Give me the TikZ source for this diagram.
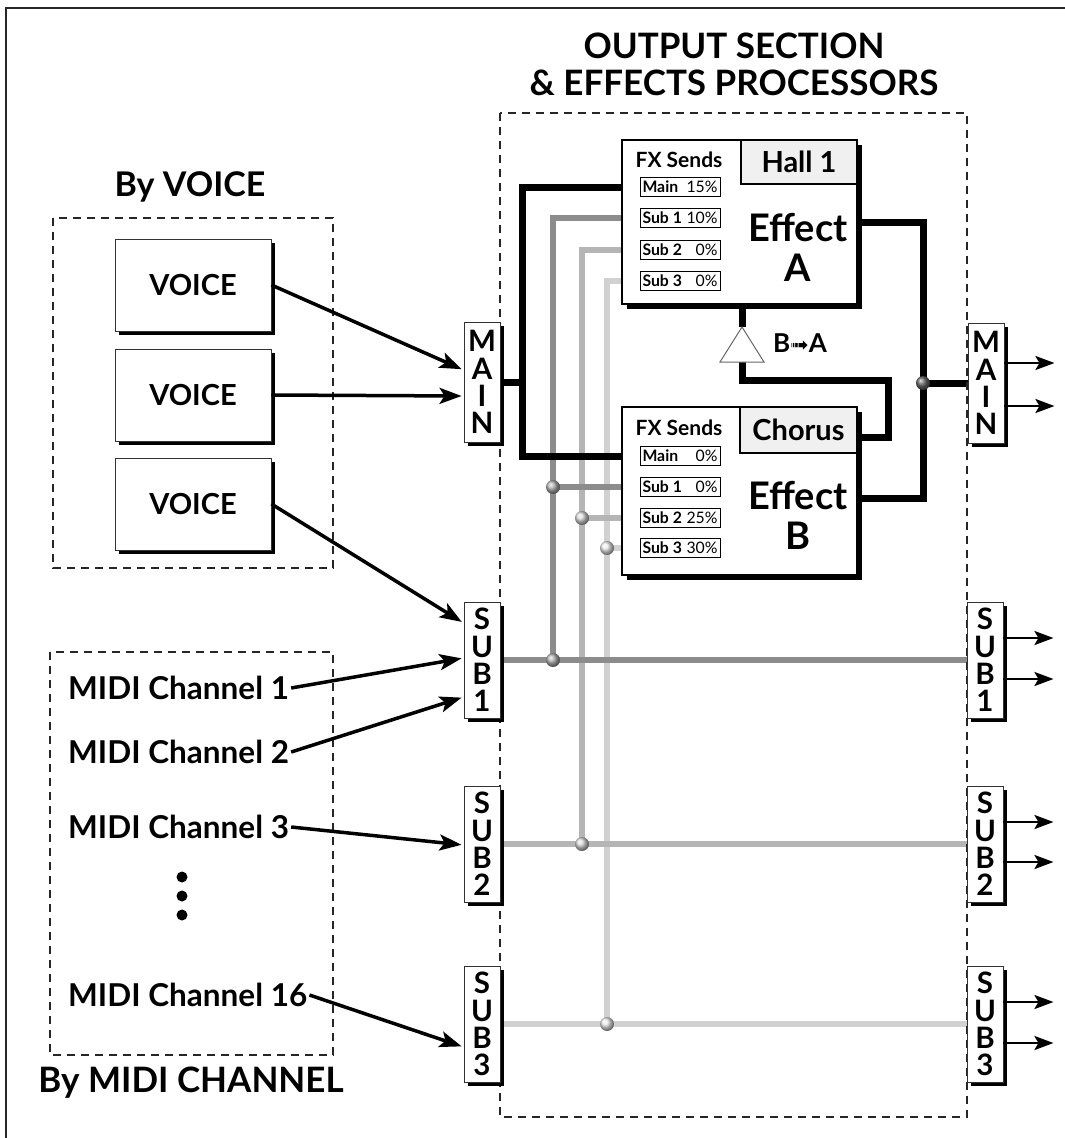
\documentclass[tikz,border=0pt]{standalone}
\usepackage{fontspec}
\setmainfont{Lato}
\newfontfamily\symfont{DejaVu Sans}
\usetikzlibrary{shapes.geometric,shadows,arrows.meta,backgrounds}

\newcommand{\fs}[1]{\fontsize{#1}{#1}\selectfont}
\newcommand{\sendlbl}[2]{\makebox[75pt]{\textbf{#1}\hfill #2}}

\tikzset{
  x=1pt, y=-1pt,
  dashbox/.style={draw=black!85, line width=1.4pt, dash pattern=on 8pt off 6pt},
  hbox/.style={draw=black!80, line width=0.9pt, fill=white, inner sep=0pt,
    drop shadow={shadow xshift=3.5pt, shadow yshift=-3.5pt, fill=black, opacity=1}},
  voicebox/.style={hbox, minimum width=156, minimum height=92, font=\fs{29}\bfseries},
  stackbox/.style={hbox, minimum width=36, align=center,
    font=\fontsize{29.5}{27.3}\selectfont\bfseries},
  fxbox/.style={draw=black, line width=1.6pt, fill=white, inner sep=0pt,
    minimum width=235, drop shadow={shadow xshift=4.5pt, shadow yshift=-4.5pt, fill=black, opacity=1}},
  tab/.style={draw=black, line width=1.2pt, fill=gray!12, inner sep=0pt, font=\fs{29}\bfseries},
  send/.style={draw=black, line width=1pt, fill=white, inner sep=0pt, minimum width=80,
    minimum height=19, font=\fs{15.8}},
  efftxt/.style={align=center, font=\fontsize{38}{40}\selectfont\bfseries},
  fxs/.style={font=\fs{21}\bfseries},
  title/.style={font=\fs{35}\bfseries},
  lbl/.style={font=\fs{31.5}\bfseries},
  blk/.style={line width=7pt, black},
  g1/.style={line width=6.5pt, black!45},
  g2/.style={line width=6.5pt, black!29},
  g3/.style={line width=6.5pt, black!18},
  arr/.style={line width=3.5pt, -{Stealth[length=22pt, width=16pt, inset=5pt]}, shorten >=2pt},
  oarr/.style={line width=2.5pt, -{Stealth[length=19pt, width=14pt, inset=4pt]}},
  jdot/.style={circle, inner sep=0pt, minimum size=14, shading=ball},
}

\begin{document}
\begin{tikzpicture}
\useasboundingbox (0,0) rectangle (1065,1138);
\draw[line width=1.5pt, black!85] (6,1140) -- (6,8) -- (1067,8);

% titles
\node[title] (t1) at (734,46) {OUTPUT SECTION};
\node[title] (t2) at (734,83) {\& EFFECTS PROCESSORS};
\node[font=\fs{34}\bfseries] (byv) at (190,187) {By VOICE};
\node[font=\fs{35}\bfseries] (bym) at (191,1083) {By MIDI CHANNEL};

% dashed groups
\draw[dashbox] (53,218) rectangle (333,568);
\draw[dashbox] (50,652) rectangle (333,1055);
\draw[dashbox] (500,113) rectangle (967,1117);

% voice boxes
\node[voicebox] (v1) at (193,285) {VOICE};
\node[voicebox] (v2) at (193,395) {VOICE};
\node[voicebox] (v3) at (193,504) {VOICE};

% midi labels
\node[lbl, anchor=west, inner sep=2pt] (m1) at (66,688) {MIDI Channel 1};
\node[lbl, anchor=west, inner sep=2pt] (m2) at (66,752) {MIDI Channel 2};
\node[lbl, anchor=west, inner sep=2pt] (m3) at (66,827) {MIDI Channel 3};
\node[lbl, anchor=west, inner sep=2pt] (m16) at (66,995) {MIDI Channel 16};
\fill (182,877) circle (5.5);
\fill (182,896) circle (5.5);
\fill (182,915) circle (5.5);

% bus boxes
\node[stackbox, minimum height=120] (mainL) at (482,382) {M\\A\\I\\N};
\node[stackbox, minimum height=120] (mainR) at (986,383) {M\\A\\I\\N};
\node[stackbox, minimum height=116] (sub1L) at (482,660) {S\\U\\B\\1};
\node[stackbox, minimum height=116] (sub1R) at (985,660) {S\\U\\B\\1};
\node[stackbox, minimum height=116] (sub2L) at (482,844) {S\\U\\B\\2};
\node[stackbox, minimum height=116] (sub2R) at (985,844) {S\\U\\B\\2};
\node[stackbox, minimum height=116] (sub3L) at (482,1024) {S\\U\\B\\3};
\node[stackbox, minimum height=116] (sub3R) at (985,1024) {S\\U\\B\\3};

% effect A
\node[fxbox, minimum height=164] (effA) at (739.5,222) {};
\node[tab, minimum width=116, minimum height=44] (hall) at (799,162) {Hall 1};
\node[efftxt] (effAt) at (798,247) {Effect\\A};
\node[fxs] (fxsA) at (679,160) {FX Sends};
\node[send] (aM) at (680,187) {\sendlbl{Main}{15\%}};
\node[send] (aS1) at (680,218) {\sendlbl{Sub 1}{10\%}};
\node[send] (aS2) at (680,250) {\sendlbl{Sub 2}{0\%}};
\node[send] (aS3) at (680,281) {\sendlbl{Sub 3}{0\%}};

% effect B
\node[fxbox, minimum height=168] (effB) at (739.5,491) {};
\node[tab, minimum width=117, minimum height=46] (chorus) at (798.5,430) {Chorus};
\node[efftxt] (effBt) at (798,515) {Effect\\B};
\node[fxs] (fxsB) at (679,428) {FX Sends};
\node[send] (bM) at (680,456) {\sendlbl{Main}{0\%}};
\node[send] (bS1) at (680,487) {\sendlbl{Sub 1}{0\%}};
\node[send] (bS2) at (680,518) {\sendlbl{Sub 2}{25\%}};
\node[send] (bS3) at (680,548) {\sendlbl{Sub 3}{30\%}};

% B->A
\coordinate (triTop) at (742,327);
\coordinate (triBot) at (742,362);
\draw[draw=black!60, line width=1pt, fill=white] (triTop) -- (764,362) -- (720,362) -- cycle;
\node[font=\fs{26}\bfseries, inner sep=0pt] (ba) at (800,343) {B{\symfont\fontsize{22}{22}\selectfont ➟}A};

% junction coordinates
\coordinate (mj) at (522,382);
\coordinate (mjB) at (522,456);
\coordinate (j1a) at (553,487);
\coordinate (j1b) at (553,660);
\coordinate (j2a) at (582,518);
\coordinate (j2b) at (582,844);
\coordinate (j3a) at (607,548);
\coordinate (j3b) at (607,1024);
\coordinate (oB) at (923,498);
\coordinate (oM) at (923,383);
\coordinate (cb1) at (742,380);
\coordinate (cb2) at (888,437);

\begin{scope}[on background layer]
  % sub 3
  \draw[g3] (aS3.west) -| (j3b);
  \draw[g3] (j3a) -- (bS3.west);
  \draw[g3] (sub3L.east) -- (sub3R.west);
  % sub 2
  \draw[g2] (aS2.west) -| (j2b);
  \draw[g2] (j2a) -- (bS2.west);
  \draw[g2] (sub2L.east) -- (sub2R.west);
  % sub 1
  \draw[g1] (aS1.west) -| (j1b);
  \draw[g1] (j1a) -- (bS1.west);
  \draw[g1] (sub1L.east) -- (sub1R.west);
  % main
  \draw[blk] (aM.west) -| (mjB) -- (bM.west);
  \draw[blk] (mainL.east) -- (mj);
  \draw[blk] (effA.east) -| (oB) -- ([yshift=-7pt]effB.east);
  \draw[blk] (oM) -- (mainR.west);
  \draw[blk] (triTop |- effA.south) -- (triTop);
  \draw[blk] (triBot) -- (cb1) -| (cb2) -- ([yshift=-7pt]chorus.east);
\end{scope}

% junction dots
\node[jdot, ball color=black!60] at (oM) {};
\node[jdot, ball color=black!30] at (j1a) {};
\node[jdot, ball color=black!30] at (j1b) {};
\node[jdot, ball color=black!15] at (j2a) {};
\node[jdot, ball color=black!15] at (j2b) {};
\node[jdot, ball color=black!8] at (j3a) {};
\node[jdot, ball color=black!8] at (j3b) {};

% input arrows
\draw[arr] (v1.east) -- ([yshift=12pt]mainL.west);
\draw[arr] (v2.east) -- ([yshift=-14pt]mainL.west);
\draw[arr] (v3.east) -- ([yshift=37pt]sub1L.west);
\draw[arr] (m1.east) -- ([yshift=2pt]sub1L.west);
\draw[arr] (m2.east) -- ([yshift=-37pt]sub1L.west);
\draw[arr] (m3.east) -- ([yshift=-1pt]sub2L.west);
\draw[arr] (m16.east) -- ([yshift=-23pt]sub3L.west);

% output arrows
\draw[oarr] ([yshift=20pt]mainR.east) -- ++(50,0);
\draw[oarr] ([yshift=-23pt]mainR.east) -- ++(50,0);
\draw[oarr] ([yshift=22pt]sub1R.east) -- ++(50,0);
\draw[oarr] ([yshift=-19pt]sub1R.east) -- ++(50,0);
\draw[oarr] ([yshift=22pt]sub2R.east) -- ++(50,0);
\draw[oarr] ([yshift=-18pt]sub2R.east) -- ++(50,0);
\draw[oarr] ([yshift=22pt]sub3R.east) -- ++(50,0);
\draw[oarr] ([yshift=-19pt]sub3R.east) -- ++(50,0);
\end{tikzpicture}
\end{document}
